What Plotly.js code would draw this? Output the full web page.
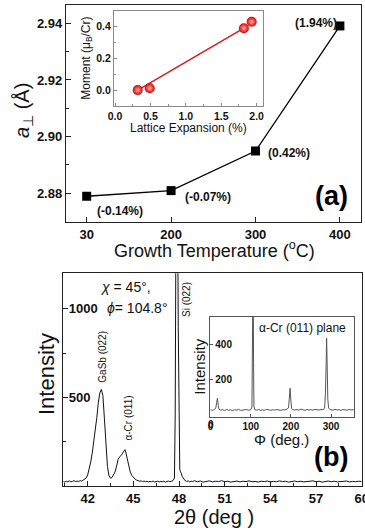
<!DOCTYPE html>
<html>
<head>
<meta charset="utf-8">
<script src="https://cdn.plot.ly/plotly-3.0.1.min.js"></script>
<style>html,body{margin:0;padding:0;background:#fff;}#chart{width:365px;height:531px;}</style>
</head>
<body>
<div id="chart"></div>
<script>
// ---------- Panel (a): lattice parameter vs growth temperature ----------
const growthTemps = ['30', '200', '300', '400'];
const aPerp = [2.8789, 2.8809, 2.8949, 2.9391];
const expansionLabels = ['(-0.14%)', '(-0.07%)', '(0.42%)', '(1.94%)'];

// Inset (a): moment vs lattice expansion
const latticeExpansion = [0.32, 0.49, 1.82, 1.93];
const moment = [0.0, 0.012, 0.39, 0.43];
const fitX = [0.32, 1.82];
const fitY = [0.0, 0.39];

// ---------- Panel (b): 2theta scan ----------
const twoTheta = [40.4,40.5,40.6,40.7,40.8,40.9,41.0,41.1,41.2,41.3,41.4,41.5,41.6,41.7,41.8,41.9,
 42.0,42.1,42.2,42.3,42.4,42.5,42.6,42.7,42.8,42.9,43.0,43.1,43.2,43.3,43.4,43.5,43.6,43.7,43.8,43.9,
 44.0,44.1,44.2,44.3,44.4,44.45,44.5,44.6,44.7,44.8,44.9,45.0,45.1,45.2,45.3,45.4,45.5,45.6,45.7,45.8,45.9,
 46.0,46.1,46.2,46.3,46.4,46.5,46.6,46.7,46.8,46.9,47.0,47.1,47.2,47.3,47.4,47.5,47.6,47.7,47.75,47.8,47.85,
 47.9,47.95,48.0,48.05,48.1,48.15,48.2,48.3,48.4,48.5,48.6,48.7,48.8,48.9,49.0,49.2,49.4,49.6,49.8,
 50.0,50.2,50.4,50.6,50.8,51.0,51.2,51.4,51.6,51.8,52.0,52.2,52.4,52.6,52.8,53.0,53.2,53.4,53.6,53.8,
 54.0,54.2,54.4,54.6,54.8,55.0,55.2,55.4,55.6,55.8,56.0,56.2,56.4,56.6,56.8,57.0,57.2,57.4,57.6,57.8,
 58.0,58.2,58.4,58.6,58.8,59.0,59.2,59.4,59.6,59.8,60.0];
const counts = [26,22,27,24,29,23,26,30,25,28,24,31,27,33,36,45,
 62,95,135,185,245,310,385,470,525,545,510,380,220,110,58,44,48,62,80,112,
 150,165,172,186,198,205,192,150,108,78,60,48,40,34,31,27,29,25,28,24,27,
 23,26,24,28,22,25,27,23,26,24,27,22,25,28,24,26,30,45,400,1500,2200,
 1800,900,250,95,80,72,55,38,30,26,29,23,27,25,30,24,28,22,26,
 29,23,27,25,30,24,27,22,26,28,23,27,25,29,24,26,22,27,25,28,
 23,26,24,29,25,27,22,26,28,24,27,23,26,25,29,24,27,22,26,28,
 24,27,23,26,25,28,23,26,24,27,25];
const twoThetaTicks = [42, 45, 48, 51, 54, 57, 60];

// Inset (b): phi scan
const phi = [0,5,10,13,15,17,19,21,25,30,35,40,45,50,55,60,65,70,75,80,85,90,95,100,103,104,105,106,107,108,110,
 115,120,125,130,135,140,145,150,155,160,165,170,175,180,185,190,194,196,198,200,202,205,210,215,220,225,230,
 235,240,245,250,255,260,265,270,275,280,284,286,288,289,290,292,294,297,300,305,310,315,320,325,330,335,340,
 345,350,355,360];
const phiCounts = [30,26,32,40,70,95,55,32,28,30,26,31,27,29,25,30,27,32,26,29,28,31,27,30,45,300,900,900,300,50,30,
 27,31,26,29,27,32,28,26,30,27,31,28,26,30,29,33,40,90,152,80,36,30,28,31,27,33,29,
 26,31,28,30,27,32,29,28,31,30,38,120,300,438,330,90,40,31,29,27,32,28,30,26,31,29,27,
 32,28,30,27];
const phiTicks = [0, 100, 200, 300];

// ---------- helpers for layout placement (pixels -> paper) ----------
const W = 365, H = 531;
const px = v => v / W;
const py = v => 1 - v / H;
const FONT = 'Liberation Sans, Arial, sans-serif';

const traces = [
  { x: growthTemps, y: aPerp, xaxis: 'x', yaxis: 'y', mode: 'lines+markers',
    line: { color: '#000', width: 1.3 }, marker: { symbol: 'square', size: 9, color: '#000' }, hoverinfo: 'none' },
  { x: fitX, y: fitY, xaxis: 'x2', yaxis: 'y2', mode: 'lines',
    line: { color: '#e0191b', width: 1.5 }, hoverinfo: 'none' },
  { x: latticeExpansion, y: moment, xaxis: 'x2', yaxis: 'y2', mode: 'markers',
    marker: { size: 10, color: '#d80000', gradient: { type: 'radial', color: '#ffb0a8' },
              line: { width: 0 } }, hoverinfo: 'none' },
  { x: twoTheta, y: counts, xaxis: 'x3', yaxis: 'y3', mode: 'lines',
    line: { color: '#111', width: 1 }, hoverinfo: 'none' },
  { x: phi, y: phiCounts, xaxis: 'x4', yaxis: 'y4', mode: 'lines',
    line: { color: '#555', width: 1 }, hoverinfo: 'none' }
];

const frame = (color, w) => ({ showline: true, mirror: true, linecolor: color, linewidth: w,
  showgrid: false, zeroline: false, ticks: 'inside', tickcolor: color, fixedrange: true,
  ticklabeloverflow: 'allow' });

const tf = (s, bold) => ({ family: FONT, size: s, color: '#111', weight: bold ? 'bold' : 'normal' });

const layout = {
  width: W, height: H,
  margin: { l: 0, r: 0, t: 0, b: 0 },
  paper_bgcolor: '#fff', plot_bgcolor: 'rgba(0,0,0,0)',
  showlegend: false,
  font: { family: FONT, color: '#111' },
  xaxis: Object.assign(frame('#222', 1.2), {
    domain: [px(66), px(361)], anchor: 'y', type: 'category', categoryarray: growthTemps,
    range: [-0.245, 3.25], ticklen: 5, tickfont: tf(13, true) }),
  xaxis5: { overlaying: 'x', anchor: 'y', type: 'linear', range: [-0.245, 3.25],
    tickvals: [0.5, 1.5, 2.5], ticks: 'inside', ticklen: 3, tickcolor: '#222',
    showticklabels: false, showline: false, showgrid: false, zeroline: false },
  yaxis: Object.assign(frame('#222', 1.2), {
    domain: [py(222), py(5)], anchor: 'x', range: [2.8698, 2.9465], tick0: 2.88, dtick: 0.02,
    tickformat: '.2f', ticklen: 5, tickfont: tf(13, true),
    minor: { dtick: 0.01, ticks: 'inside', ticklen: 3, tickcolor: '#222' } }),
  xaxis2: Object.assign(frame('#8a8a8a', 1), {
    domain: [px(114), px(263)], anchor: 'y2', range: [-0.015, 2.09], dtick: 0.5, tickformat: '.1f',
    ticklen: 3, tickfont: tf(10.5, true), minor: { dtick: 0.25, ticks: 'inside', ticklen: 2, tickcolor: '#8a8a8a' } }),
  yaxis2: Object.assign(frame('#8a8a8a', 1), {
    domain: [py(106), py(10.7)], anchor: 'x2', range: [-0.1, 0.5], dtick: 0.2, tickformat: '.1f',
    ticklen: 3, tickfont: tf(10.5, true), minor: { dtick: 0.1, ticks: 'inside', ticklen: 2, tickcolor: '#8a8a8a' } }),
  xaxis3: Object.assign(frame('#222', 1.2), {
    domain: [px(63.3), px(361.7)], anchor: 'y3', range: [40.4, 60], tickvals: twoThetaTicks,
    ticklen: 5, tickfont: tf(13, true), minor: { dtick: 1.5, tick0: 42, ticks: 'inside', ticklen: 3, tickcolor: '#222' } }),
  yaxis3: Object.assign(frame('#222', 1.2), {
    domain: [py(486), py(273.3)], anchor: 'x3', range: [0, 1200], tickvals: [500, 1000],
    ticklabelposition: 'inside', ticklen: 5, tickfont: tf(13, true),
    minor: { tickvals: [250, 750], ticks: 'inside', ticklen: 3, tickcolor: '#222' } }),
  xaxis4: Object.assign(frame('#555', 1), {
    domain: [px(210), px(354.3)], anchor: 'y4', range: [-1.5, 358], tickvals: phiTicks,
    ticklen: 3, tickfont: tf(10, true) }),
  yaxis4: Object.assign(frame('#555', 1), {
    domain: [py(416.7), py(316.7)], anchor: 'x4', range: [-10, 560], tickvals: [200, 400],
    ticklabelposition: 'outside', ticklabelstandoff: -25, ticklen: 3, tickfont: tf(10, true) }),
  annotations: []
};

function note(text, x, y, size, opts) {
  layout.annotations.push(Object.assign({
    text: text, xref: 'paper', yref: 'paper', x: px(x), y: py(y),
    xanchor: 'center', yanchor: 'middle', showarrow: false,
    font: { family: FONT, size: size, color: '#111' }
  }, opts || {}));
}
const boldFont = s => ({ font: { family: FONT, size: s, color: '#111', weight: 'bold' } });

// Panel (a) titles and labels
note('<i>a</i><sub>⊥</sub> (Å)', 24, 110, 20, { textangle: -90 });
note('Growth Temperature (<sup>o</sup>C)', 214, 249.5, 18);
note(expansionLabels[0], 119.5, 210.7, 12, boldFont(12));
note(expansionLabels[1], 208, 197.3, 12, boldFont(12));
note(expansionLabels[2], 289, 152.7, 12, boldFont(12));
note(expansionLabels[3], 315.8, 23.3, 12, boldFont(12));
note('(a)', 331.7, 196, 27, { font: { family: FONT, size: 27, color: '#000', weight: 'bold' } });
note('Moment (μ<sub>B</sub>/Cr)', 86.7, 58, 12, { textangle: -90 });
note('Lattice Expansion (%)', 188, 128, 12);

// Panel (b) titles and labels
note('Intensity', 46, 374, 22, { textangle: -90 });
note('2θ (deg )', 214, 516.7, 20);
note('(b)', 330.8, 456.7, 27, { font: { family: FONT, size: 27, color: '#000', weight: 'bold' } });
note('<i>χ</i> = 45°,', 125, 286.7, 14);
note('<i>ϕ</i>= 104.8°', 137.5, 308.3, 14);
note('Si (022)', 186, 300, 10, { textangle: -90 });
note('GaSb (022)', 101.7, 357, 10, { textangle: -90 });
note('α-Cr (011)', 127.5, 418, 10, { textangle: -90 });
note('Intensity', 200, 366.7, 15, { textangle: -90 });
note('Φ (deg.)', 281.7, 439, 15);
note('α-Cr (011) plane', 302.8, 328.3, 12);

// first phi tick label (Plotly hides it at the inset corner), placed through the x4 scale
layout.annotations.push({
  text: String(phiTicks[0]), xref: 'x4', yref: 'paper', x: phiTicks[0], y: py(424),
  xanchor: 'center', yanchor: 'middle', showarrow: false,
  font: { family: FONT, size: 10, color: '#111', weight: 'bold' }
});

Plotly.newPlot('chart', traces, layout, { staticPlot: true, displayModeBar: false });
</script>
</body>
</html>
